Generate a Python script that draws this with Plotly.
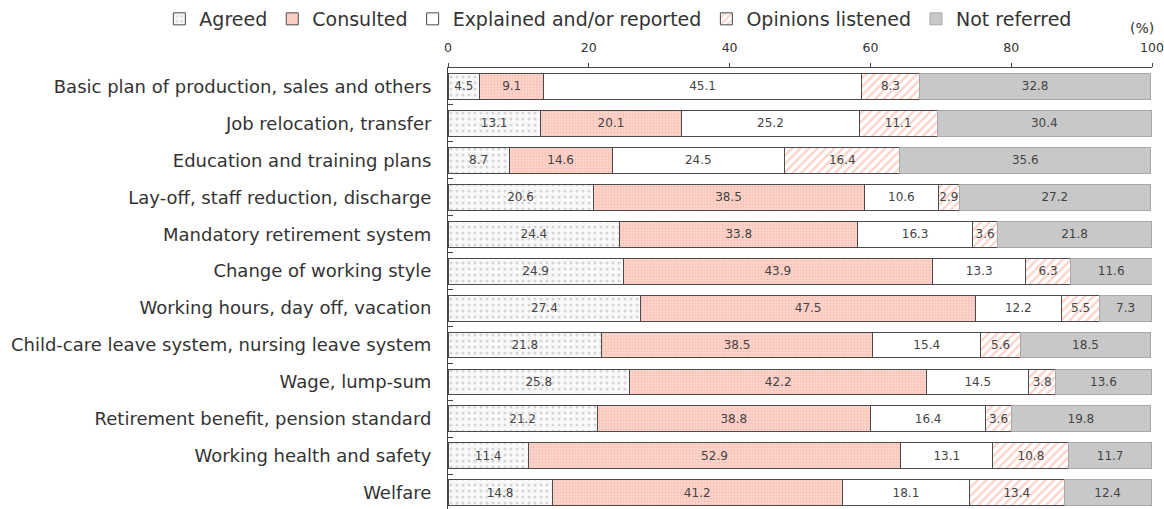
import plotly.graph_objects as go

categories = [
    "Basic plan of production, sales and others",
    "Job relocation, transfer",
    "Education and training plans",
    "Lay-off, staff reduction, discharge",
    "Mandatory retirement system",
    "Change of working style",
    "Working hours, day off, vacation",
    "Child-care leave system, nursing leave system",
    "Wage, lump-sum",
    "Retirement benefit, pension standard",
    "Working health and safety",
    "Welfare",
]
agreed = [4.5, 13.1, 8.7, 20.6, 24.4, 24.9, 27.4, 21.8, 25.8, 21.2, 11.4, 14.8]
consulted = [9.1, 20.1, 14.6, 38.5, 33.8, 43.9, 47.5, 38.5, 42.2, 38.8, 52.9, 41.2]
explained = [45.1, 25.2, 24.5, 10.6, 16.3, 13.3, 12.2, 15.4, 14.5, 16.4, 13.1, 18.1]
opinions = [8.3, 11.1, 16.4, 2.9, 3.6, 6.3, 5.5, 5.6, 3.8, 3.6, 10.8, 13.4]
not_referred = [32.8, 30.4, 35.6, 27.2, 21.8, 11.6, 7.3, 18.5, 13.6, 19.8, 11.7, 12.4]
x_ticks = [0, 20, 40, 60, 80, 100]

FONT = "DejaVu Sans"
series = [
    ("Agreed", agreed, dict(color="#f8f8f8", line=dict(color="#4a4a4a", width=1),
                            pattern=dict(shape=".", fgcolor="#b4b4b4", bgcolor="#f9f9f9", size=6, solidity=0.22))),
    ("Consulted", consulted, dict(color="#fac4ba", line=dict(color="#4a4a4a", width=1),
                                  pattern=dict(shape=".", fgcolor="#f6a797", bgcolor="#fcd8d0", size=3, solidity=0.45))),
    ("Explained and/or reported", explained, dict(color="#ffffff", line=dict(color="#4a4a4a", width=1))),
    ("Opinions listened", opinions, dict(color="#ffffff", line=dict(color="#4a4a4a", width=1),
                                         pattern=dict(shape="/", fgcolor="#f7a795", bgcolor="#ffffff", size=6, solidity=0.4))),
    ("Not referred", not_referred, dict(color="#c8c8c8", line=dict(color="#a8a8a8", width=1))),
]

fig = go.Figure()
for name, vals, marker in series:
    fig.add_trace(go.Bar(
        y=categories, x=vals, name=name, orientation="h", marker=marker,
        width=0.7, text=[f"{v:.1f}" for v in vals], textposition="inside",
        insidetextanchor="middle", constraintext="none", textangle=0,
        textfont=dict(family=FONT, size=12, color="#444"),
        hoverinfo="x+y",
    ))

fig.update_layout(
    barmode="stack",
    width=1164, height=509,
    margin=dict(l=448, r=12, t=65, b=0),
    paper_bgcolor="white", plot_bgcolor="white",
    font=dict(family=FONT, color="#333"),
    legend=dict(orientation="h", x=-0.41, xref="paper", xanchor="left",
                y=1.155, yref="paper", yanchor="top", bgcolor="rgba(0,0,0,0)",
                font=dict(size=19, color="#333"), itemwidth=30, traceorder="normal"),
    xaxis=dict(side="top", range=[0, 100], tickvals=x_ticks, ticktext=[str(t) for t in x_ticks],
               showgrid=False, zeroline=False, showline=True, linecolor="#444", linewidth=1,
               ticks="outside", ticklen=4, tickcolor="#444", tickfont=dict(size=12.5, color="#333"),
               ticklabelstandoff=6, fixedrange=True, automargin=False, ticklabeloverflow="allow"),
    yaxis=dict(autorange=False, range=[11.44, -0.5], showgrid=False, showline=True, linecolor="#444",
               linewidth=1, ticks="inside", ticklen=5, tickcolor="#444", tickson="boundaries",
               tickfont=dict(size=18, color="#333"), ticklabelstandoff=12, fixedrange=True,
               automargin=False),
    annotations=[dict(text="(%)", x=0.986, xref="paper", y=1.0897, yref="paper", showarrow=False,
                      xanchor="center", yanchor="middle", font=dict(size=14, color="#333"))],
)
fig.write_html("out.html", config={"displayModeBar": False},
               post_script="document.body.style.margin='0px';")
